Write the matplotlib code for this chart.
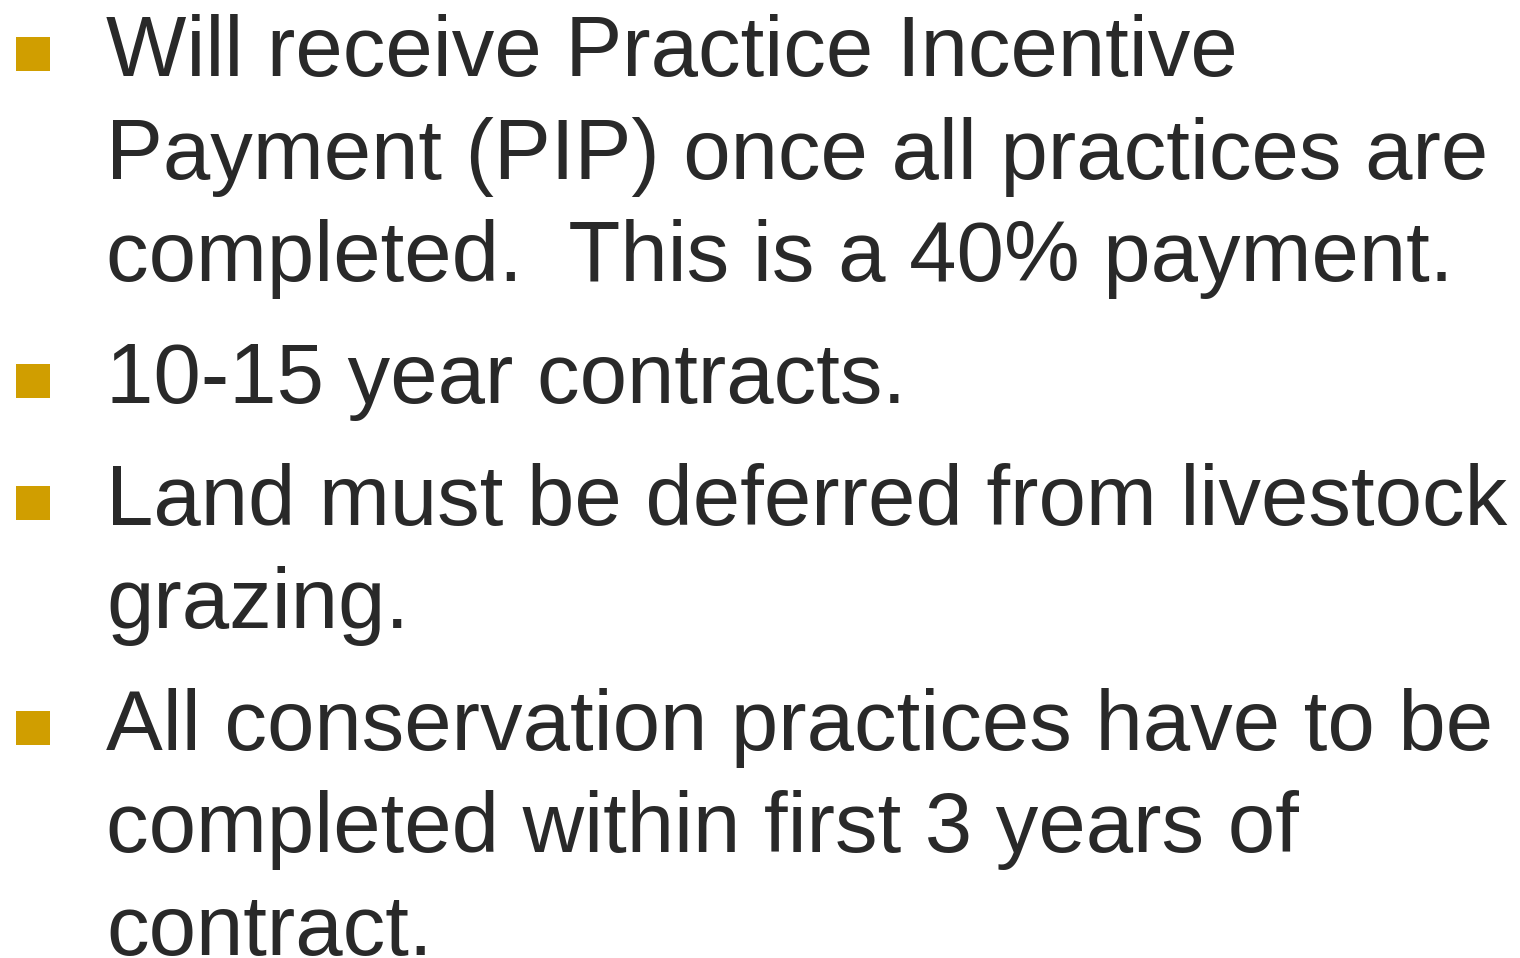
import matplotlib.pyplot as plt
from matplotlib.patches import Rectangle

# slide content: one list of lines per bullet
bullets = [
    ["Will receive Practice Incentive",
     "Payment (PIP) once all practices are",
     "completed.  This is a 40% payment."],
    ["10-15 year contracts."],
    ["Land must be deferred from livestock",
     "grazing."],
    ["All conservation practices have to be",
     "completed within first 3 years of",
     "contract."],
]

text_color = "#292929"
bullet_color = "#D09E00"

W, H = 1520, 958
fig = plt.figure(figsize=(W / 100, H / 100), dpi=100)
ax = fig.add_axes([0, 0, 1, 1])
ax.set_xlim(0, W)
ax.set_ylim(H, 0)
ax.axis("off")

first_base = 76
line_step = 102.5
bullet_gap = 122
text_x = 106

y = first_base
for lines in bullets:
    ax.add_patch(Rectangle((16, y - 39), 34, 34, color=bullet_color, lw=0))
    for line in lines:
        ax.text(text_x, y, line, fontsize=61.3, family="Liberation Sans",
                color=text_color, va="baseline", ha="left")
        y += line_step
    y += bullet_gap - line_step

fig.savefig("out.png", dpi=100)
